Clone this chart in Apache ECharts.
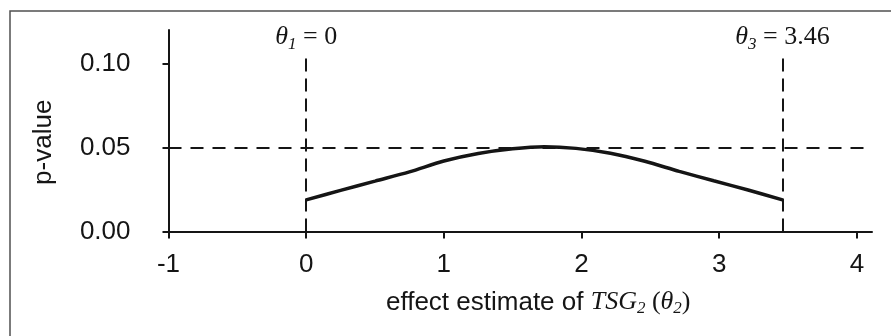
<!DOCTYPE html>
<html>
<head>
<meta charset="utf-8">
<script src="https://cdn.jsdelivr.net/npm/echarts@6/dist/echarts.min.js"></script>
<style>
  html, body { margin: 0; padding: 0; background: #fff; }
  #chart { width: 891px; height: 336px; }
</style>
</head>
<body>
<div id="chart"></div>
<script>
// values
const xTicks = [-1, 0, 1, 2, 3, 4];
const yTicks = [0, 0.05, 0.1];
const effect = [0, 0.25, 0.5, 0.75, 1.0, 1.25, 1.5, 1.73, 1.96, 2.21, 2.46, 2.71, 2.96, 3.21, 3.46];
const pValue = [0.0188, 0.0245, 0.030, 0.0355, 0.042, 0.0465, 0.0493, 0.0505, 0.0495, 0.0466, 0.0418, 0.0358, 0.0302, 0.0247, 0.0188];
const theta1 = 0;
const theta3 = 3.46;
const alpha = 0.05;
const guideTop = 0.103;

const sans = "'Liberation Sans', Arial, sans-serif";
const serif = "'Liberation Serif', 'Times New Roman', serif";
const ink = "#151515";

const rich = {
  a: { fontFamily: sans, fontSize: 26, lineHeight: 30, color: ink },
  i: { fontFamily: serif, fontStyle: "italic", fontSize: 26, lineHeight: 30, color: ink },
  r: { fontFamily: serif, fontSize: 26, lineHeight: 30, color: ink },
  s: { fontFamily: serif, fontStyle: "italic", fontSize: 17, lineHeight: 17, verticalAlign: "bottom", color: ink },
};

const chart = echarts.init(document.getElementById("chart"));
chart.setOption({
  animation: false,
  grid: { left: 168.5, right: 19, top: 30, bottom: 104.5 },
  graphic: [
    {
      type: "rect",
      shape: { x: 10, y: 11, width: 900, height: 400 },
      style: { fill: "none", stroke: "#505050", lineWidth: 1.5 },
      silent: true,
    },
  ],
  xAxis: {
    type: "value",
    min: -1,
    max: 4.11,
    interval: 1,
    splitLine: { show: false },
    axisLine: { onZero: false, lineStyle: { color: ink, width: 2 } },
    axisTick: { customValues: xTicks, length: 7, lineStyle: { color: ink, width: 2 } },
    axisLabel: {
      customValues: xTicks,
      margin: 20,
      fontFamily: sans,
      fontSize: 26,
      color: ink,
    },
    name: "{a|effect estimate of }{i|TSG}{s|2}{r| (}{i|θ}{s|2}{r|)}",
    nameLocation: "middle",
    nameGap: 56,
    nameTextStyle: { rich, padding: [0, 0, 0, 36] },
  },
  yAxis: {
    type: "value",
    min: 0,
    max: 0.12,
    interval: 0.05,
    splitLine: { show: false },
    axisLine: { onZero: false, lineStyle: { color: ink, width: 2 } },
    axisTick: { customValues: yTicks, length: 6, lineStyle: { color: ink, width: 2 } },
    axisLabel: {
      customValues: yTicks,
      margin: 38,
      fontFamily: sans,
      fontSize: 26,
      color: ink,
      padding: [0, 0, 8, 0],
      formatter: (v) => v.toFixed(2),
    },
    name: "p-value",
    nameLocation: "middle",
    nameGap: 112,
    nameTextStyle: { fontFamily: sans, fontSize: 26, color: ink, padding: [0, 23, 0, 0] },
  },
  series: [
    {
      type: "line",
      data: effect.map((x, i) => [x, pValue[i]]),
      smooth: 0.3,
      symbol: "none",
      lineStyle: { color: ink, width: 3.5 },
      markLine: {
        silent: true,
        symbol: "none",
        animation: false,
        lineStyle: { color: ink, width: 2, type: [13, 9] },
        label: { show: false },
        data: [
          { yAxis: alpha },
          [
            {
              coord: [theta1, 0],
              lineStyle: { type: [13, 7] },
              label: {
                show: true,
                position: "end",
                distance: 6,
                formatter: "{i|θ}{s|1}{r| = 0}",
                rich,
              },
            },
            { coord: [theta1, guideTop] },
          ],
          [
            {
              coord: [theta3, 0],
              lineStyle: { type: [13, 7] },
              label: {
                show: true,
                position: "end",
                distance: 6,
                formatter: "{i|θ}{s|3}{r| = 3.46}",
                rich,
              },
            },
            { coord: [theta3, guideTop] },
          ],
        ],
      },
    },
  ],
});
</script>
</body>
</html>
